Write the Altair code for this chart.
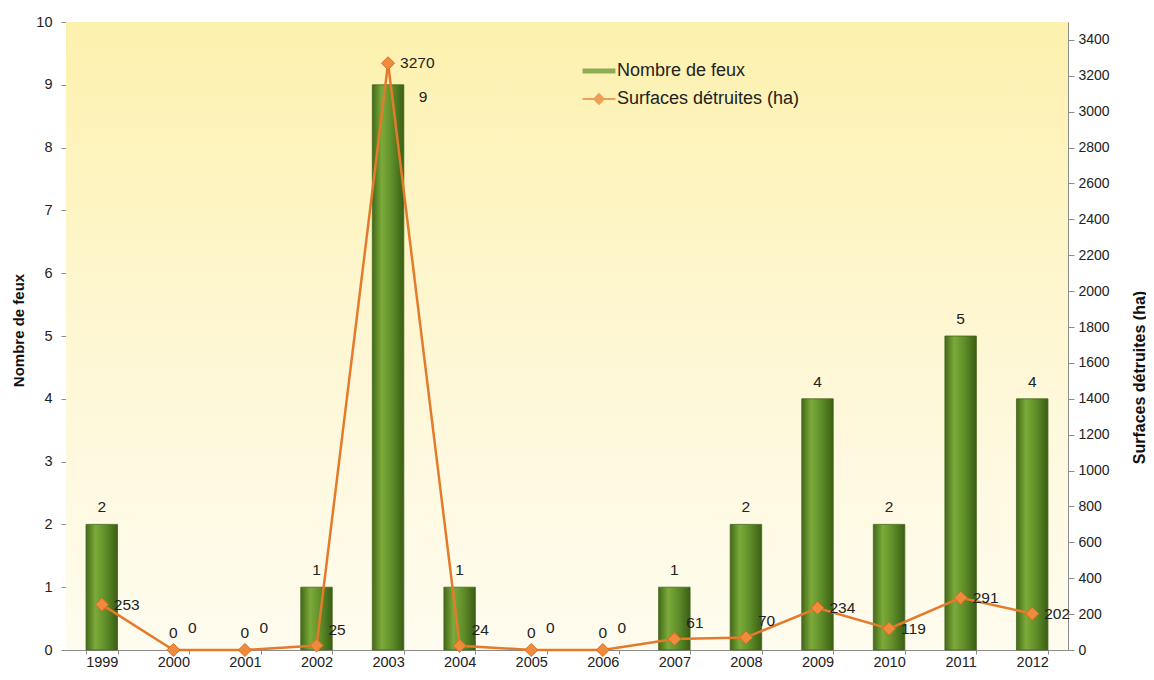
import altair as alt
import pandas as pd

# ---- data ----
years = ["1999", "2000", "2001", "2002", "2003", "2004", "2005",
         "2006", "2007", "2008", "2009", "2010", "2011", "2012"]
feux = [2, 0, 0, 1, 9, 1, 0, 0, 1, 2, 4, 2, 5, 4]
surfaces = [253, 0, 0, 25, 3270, 24, 0, 0, 61, 70, 234, 119, 291, 202]
left_ticks = [0, 1, 2, 3, 4, 5, 6, 7, 8, 9, 10]
right_ticks = [0, 200, 400, 600, 800, 1000, 1200, 1400, 1600, 1800, 2000,
               2200, 2400, 2600, 2800, 3000, 3200, 3400]
series_names = ["Nombre de feux", "Surfaces détruites (ha)"]

df = pd.DataFrame({"annee": years, "feux": feux, "surface": surfaces})
legend_df = pd.DataFrame({"serie": series_names})

W, H = 1002, 628
FONT = "Liberation Sans"
GREEN = "#5E8E28"
ORANGE = "#E47B2C"
AXIS_GRAY = "#8c8c8c"
TXT = "#222222"

x_enc = alt.X(
    "annee:N", sort=years, title=None,
    scale=alt.Scale(paddingInner=0.56, paddingOuter=0.28),
    axis=alt.Axis(labelAngle=0, tickBand="extent", domainColor=AXIS_GRAY,
                  tickColor=AXIS_GRAY, tickSize=4, labelPadding=1,
                  labelFontSize=14.5, labelColor=TXT, labelFont=FONT),
)

# background gradient of the plot area
bg = alt.Chart(pd.DataFrame({"k": [0]})).mark_rect(
    fill=alt.Gradient(
        gradient="linear",
        stops=[alt.GradientStop(color="#FDF1AE", offset=0),
               alt.GradientStop(color="#FEF8DA", offset=0.6),
               alt.GradientStop(color="#FEFCEF", offset=1)],
        x1=0, x2=0, y1=0, y2=1),
    strokeWidth=0,
).encode(x=alt.value(0), x2=alt.value("width"), y=alt.value(0), y2=alt.value("height"))

legend_props = dict(orient="none", legendX=519, legendY=35, title=None,
                    symbolSize=750, symbolStrokeWidth=0, labelFontSize=18,
                    labelFont=FONT, labelColor=TXT, rowPadding=5, labelLimit=400,
                    labelOffset=4, padding=0)

# layer that only builds the legend (hidden under the background)
legend_layer = alt.Chart(legend_df).mark_point(filled=True, size=1).encode(
    color=alt.Color("serie:N",
                    scale=alt.Scale(domain=series_names, range=[GREEN, ORANGE]),
                    legend=alt.Legend(**legend_props)),
    shape=alt.Shape("serie:N",
                    scale=alt.Scale(domain=series_names,
                                    range=["M-1.2,-0.18L1.2,-0.18L1.2,0.18L-1.2,0.18Z",
                                           "M-1.2,-0.07L1.2,-0.07L1.2,0.07L-1.2,0.07Z"
                                           "M-0.45,0L0,-0.45L0.45,0L0,0.45Z"]),
                    legend=alt.Legend(**legend_props)),
)

y_left = alt.Y("feux:Q", scale=alt.Scale(domain=[0, 10], nice=False),
               axis=alt.Axis(values=left_ticks, title="Nombre de feux", grid=False,
                             domainColor=AXIS_GRAY, tickColor=AXIS_GRAY, tickSize=5,
                             labelPadding=9, labelFontSize=14.5, labelColor=TXT, labelFont=FONT,
                             titleFont=FONT, titleFontSize=15, titleFontWeight="bold",
                             titleColor="#111", titleAngle=-90, titleX=-48, titleY=308,
                             titleAlign="center", titleBaseline="middle"))

bars = alt.Chart(df).transform_filter(alt.datum.feux > 0).mark_bar(
    fill=alt.Gradient(
        gradient="linear",
        stops=[alt.GradientStop(color="#426A18", offset=0),
               alt.GradientStop(color="#7CAA3A", offset=0.3),
               alt.GradientStop(color="#5F8E29", offset=0.62),
               alt.GradientStop(color="#3A5E14", offset=1)],
        x1=0, x2=1, y1=0, y2=0),
    stroke="#45661C", strokeWidth=0.8,
).encode(x=x_enc, y=y_left)

bar_labels = alt.Chart(df).transform_filter(alt.datum.feux < 9).mark_text(
    baseline="bottom", dy=-9, fontSize=15.5, font=FONT, color=TXT
).encode(x=x_enc, y=y_left, text="feux:Q")

bar_labels_top = alt.Chart(df).transform_filter(alt.datum.feux >= 9).mark_text(
    baseline="middle", align="center", dx=35, dy=12, fontSize=15.5, font=FONT, color=TXT
).encode(x=x_enc, y=y_left, text="feux:Q")

left = alt.layer(bars, bar_labels, bar_labels_top)

y_right = alt.Y("surface:Q", scale=alt.Scale(domain=[0, 3500], nice=False),
                axis=alt.Axis(orient="right", values=right_ticks, format="d",
                              title="Surfaces détruites (ha)", grid=False,
                              domainColor=AXIS_GRAY, tickColor=AXIS_GRAY, tickSize=6,
                              labelPadding=4, labelFontSize=14, labelColor=TXT, labelFont=FONT,
                              titleFont=FONT, titleFontSize=16, titleFontWeight="bold",
                              titleColor="#111", titleAngle=-90, titleX=71, titleY=355,
                              titleAlign="center", titleBaseline="middle"))

line = alt.Chart(df).mark_line(color=ORANGE, strokeWidth=2.5).encode(x=x_enc, y=y_right)
points = alt.Chart(df).mark_point(
    shape="diamond", filled=True, size=170, fill="#F08A3C", stroke="#D86E1E",
    strokeWidth=1, opacity=1
).encode(x=x_enc, y=y_right)

lab_zero = alt.Chart(df).transform_filter(alt.datum.surface == 0).mark_text(
    align="center", baseline="middle", dx=19, dy=-22, fontSize=15.5, font=FONT, color=TXT
).encode(x=x_enc, y=y_right, text="surface:Q")
lab_small = alt.Chart(df).transform_filter(
    (alt.datum.surface > 0) & (alt.datum.surface < 100)).mark_text(
    align="left", baseline="middle", dx=12, dy=-16, fontSize=15.5, font=FONT, color=TXT
).encode(x=x_enc, y=y_right, text="surface:Q")
lab_big = alt.Chart(df).transform_filter(alt.datum.surface >= 100).mark_text(
    align="left", baseline="middle", dx=12, dy=0, fontSize=15.5, font=FONT, color=TXT
).encode(x=x_enc, y=y_right, text="surface:Q")

right = alt.layer(line, points, lab_zero, lab_small, lab_big)

chart = alt.layer(legend_layer, bg, left, right).resolve_scale(
    y="independent"
).properties(
    width=W, height=H,
    autosize=alt.AutoSizeParams(type="none"),
    padding={"left": 58, "top": 14, "right": 78, "bottom": 22},
).configure_view(stroke=None).configure(font=FONT)

chart.save("out.html", embed_options={"renderer": "svg", "actions": False})
